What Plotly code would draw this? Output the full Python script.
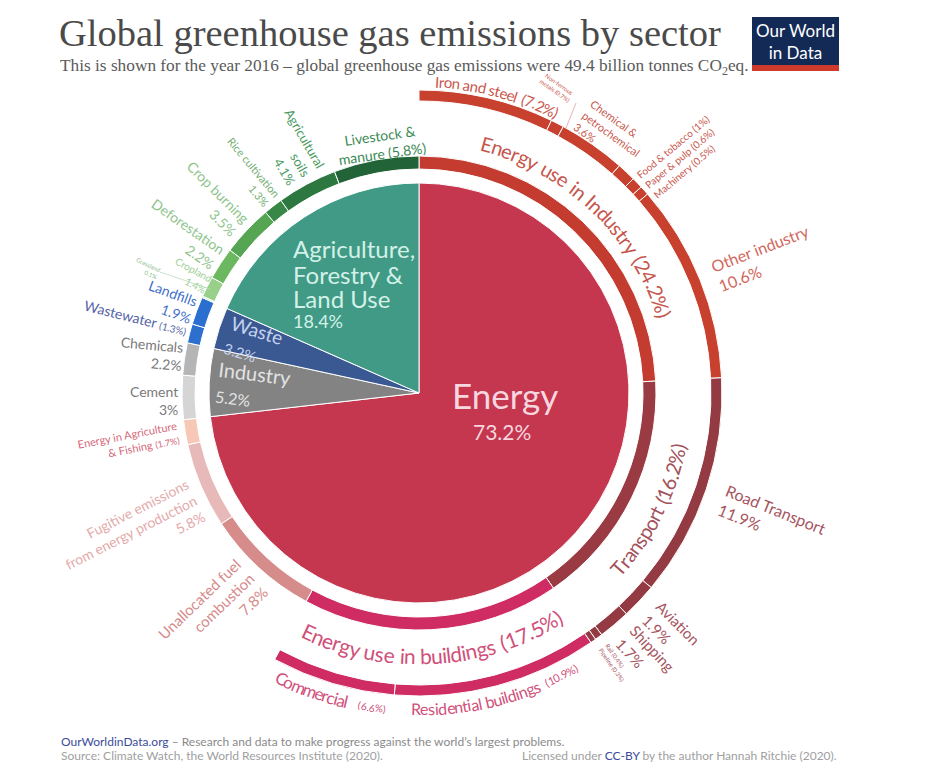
import math
import plotly.graph_objects as go

# ---- data (share of global GHG emissions, %) ----
main_sectors = ["Energy", "Industry", "Waste", "Agriculture, Forestry & Land Use"]
main_values = [73.2, 5.2, 3.2, 18.4]
main_colors = ["#c4374f", "#838383", "#3a5891", "#409a86"]

sub_sectors = ["Energy use in Industry", "Transport", "Energy use in buildings",
               "Unallocated fuel combustion", "Fugitive emissions from energy production",
               "Energy in Agriculture & Fishing", "Cement", "Chemicals", "Wastewater",
               "Landfills", "Grassland", "Cropland", "Deforestation", "Crop burning",
               "Rice cultivation", "Agricultural soils", "Livestock & manure"]
sub_values = [24.2, 16.2, 17.5, 7.8, 5.8, 1.7, 3.0, 2.2, 1.3, 1.9, 0.1, 1.4, 2.2, 3.5, 1.3, 4.1, 5.8]
sub_colors = ["#c43b30", "#9a3a42", "#d02c64", "#d78c8c", "#e8b9b9", "#f7c8b6",
              "#d5d5d5", "#b5b5b5", "#2d6fcc", "#2a6fd0", "#c8e8c0", "#98d08a",
              "#6cb860", "#55a552", "#378746", "#2d7841", "#226437"]

detail_sectors = ["Iron and steel", "Non-ferrous metals", "Chemical & petrochemical",
                  "Food & tobacco", "Paper & pulp", "Machinery", "Other industry",
                  "Road Transport", "Aviation", "Shipping", "Rail", "Pipeline",
                  "Residential buildings", "Commercial"]
detail_values = [7.2, 0.7, 3.6, 1.0, 0.6, 0.5, 10.6, 11.9, 1.9, 1.7, 0.4, 0.3, 10.9, 6.6]
detail_colors = ["#c8412f"] * 7 + ["#943a42"] * 5 + ["#d02c64"] * 2

# ---- geometry (pixels on the page) ----
W, H = 930, 768
PAGE_MARGIN = 8  # default body margin of the html page
CX, CY = 419, 393
R_MAX = 330
PIE_R = 210
MID = (224, 237)
OUT = (292, 303)


def px(x):
    return (x - PAGE_MARGIN) / W


def py(y):
    return 1 - (y - PAGE_MARGIN) / H


def ring(values, colors, names, r_in, r_out):
    theta, width, acc = [], [], 0.0
    for v in values:
        theta.append((acc + v / 2) * 3.6)
        width.append(v * 3.6)
        acc += v
    return go.Barpolar(
        theta=theta, width=width, base=[r_in] * len(values), r=[r_out - r_in] * len(values),
        marker=dict(color=colors, line=dict(color="white", width=1)),
        text=names, customdata=values,
        hovertemplate="%{text}: %{customdata}%<extra></extra>",
    )


fig = go.Figure()
fig.add_trace(ring(main_values, main_colors, main_sectors, 0, PIE_R))
fig.add_trace(ring(sub_values, sub_colors, sub_sectors, *MID))
fig.add_trace(ring(detail_values, detail_colors, detail_sectors, *OUT))

annotations = []


def char_w(c):
    if c in "ijl":
        return 0.23
    if c in "I":
        return 0.27
    if c in "ft":
        return 0.33
    if c == "r":
        return 0.36
    if c == " ":
        return 0.26
    if c in ".,":
        return 0.24
    if c in "()":
        return 0.3
    if c == "%":
        return 0.76
    if c.isdigit():
        return 0.58
    if c == "m":
        return 0.83
    if c == "w":
        return 0.74
    if c in "sc":
        return 0.45
    if c in "agyv":
        return 0.5
    if c in "ET":
        return 0.56
    if c.isupper():
        return 0.64
    return 0.53


def arc_text(text, r, t0, t1, size, color, inward=False):
    # one rotated annotation per character, spread along an arc from t0 to t1 (degrees, clockwise from top)
    ws = [char_w(c) for c in text]
    total = sum(ws)
    acc = 0.0
    for c, w in zip(text, ws):
        f = (acc + w / 2) / total
        acc += w
        if c == " ":
            continue
        th = t0 + (t1 - t0) * f
        a = math.radians(th)
        x = CX + r * math.sin(a)
        y = CY - r * math.cos(a)
        annotations.append(dict(
            text=c, x=px(x), y=py(y), showarrow=False,
            textangle=th - 180 if inward else th, xanchor="center", yanchor="middle",
            font=dict(family="Lato", size=size, color=color),
        ))


arc_text("Energy use in Industry (24.2%)", 258, 14.0, 73.0, 20, "#c6564c")
arc_text("Transport (16.2%)", 265, 132.5, 101.0, 20, "#a3525c", inward=True)
arc_text("Energy use in buildings (17.5%)", 263, 206.0, 147.5, 21, "#d0507a", inward=True)
arc_text("Iron and steel (7.2%)", 312, 3.0, 26.5, 15, "#c9574d")
arc_text("Commercial", 317, 206.5, 193.0, 17, "#d0507a", inward=True)
arc_text("(6.6%)", 318, 191.0, 186.0, 10, "#d0507a", inward=True)
arc_text("Residential buildings", 316, 181.5, 157.5, 16, "#d0507a", inward=True)
arc_text("(10.9%)", 316, 156.5, 150.0, 11, "#d0507a", inward=True)

# straight (rotated) labels: text, x, y, angle, size, color, align
labels = [
    ("Livestock &<br>manure (5.8%)", 381, 145, -8, 14, "#3b8a55", "center"),
    ("Agricultural<br>soils<br>4.1%", 290, 147, 60, 13, "#4a9a5f", "right"),
    ("Rice cultivation<br>1.3%", 248, 172, 50, 11, "#74ae72", "right"),
    ("Crop burning<br>3.5%", 212, 198, 45, 14, "#8ec48b", "right"),
    ("Deforestation<br>2.2%", 183, 233, 35, 14, "#8ec48b", "right"),
    ("Cropland<br>1.4%", 191, 275, 28, 10, "#a0d095", "right"),
    ("Grassland<br>0.1%", 147, 268, 25, 6, "#90c090", "right"),
    ("Landfills<br>1.9%", 170, 301, 20, 14, "#3f6fca", "right"),
    ("Wastewater <span style='font-size:10px'>(1.3%)</span>", 135, 318, 14, 14, "#5563a6", "right"),
    ("Chemicals<br>2.2%", 151, 354, 5, 14, "#7a7a7a", "right"),
    ("Cement<br>3%", 154, 400, 0, 14, "#7a7a7a", "right"),
    ("Energy in Agriculture<br>& Fishing <span style='font-size:9px'>(1.7%)</span>", 129, 441, -11, 11, "#d4687a", "right"),
    ("Fugitive emissions<br>from energy production<br>5.8%", 130, 532, -27, 14, "#e4aaaa", "right"),
    ("Unallocated fuel<br>combustion<br>7.8%", 212, 613, -44, 15, "#d68a8a", "right"),
    ("Non-ferrous<br>metals (0.7%)", 557, 88, 35, 6, "#c9574d", "center"),
    ("Chemical &<br>petrochemical<br>3.6%", 611, 134, 36, 11, "#c9574d", "left"),
    ("Food & tobacco (1%)<br>Paper & pulp (0.6%)<br>Machinery (0.5%)", 681, 157, -40, 10, "#c9574d", "left"),
    ("Other industry<br>10.6%", 764, 258, -21, 16, "#d2665c", "left"),
    ("Road Transport<br>11.9%", 772, 519, 22, 16, "#a65560", "left"),
    ("Aviation<br>1.9%", 671, 630, 45, 15, "#a65560", "left"),
    ("Shipping<br>1.7%", 645, 655, 47, 15, "#a65560", "left"),
    ("Rail (0.4%)<br>Pipeline (0.3%)", 615, 662, 55, 6, "#a65560", "left"),
    # inside the pie
    ("Waste<br><span style='font-size:15px'>3.2%</span>", 253, 342, 17, 19, "#c5d2ee", "left"),
    ("Industry<br><span style='font-size:16px'>5.2%</span>", 253, 385, 7, 20, "#e2e2e2", "left"),
]
for text, x, y, ang, size, color, align in labels:
    annotations.append(dict(
        text=text, x=px(x), y=py(y), showarrow=False,
        textangle=ang, align=align, xanchor="center", yanchor="middle",
        font=dict(family="Lato", size=size, color=color),
    ))

# AFOLU block, one line at a time to keep the tight leading of the original
for text, y, size in [("Agriculture,", 249, 24), ("Forestry &", 274, 24),
                      ("Land Use", 298, 24), ("18.4%", 321, 18)]:
    annotations.append(dict(text=text, x=px(291), y=py(y), xanchor="left", yanchor="middle",
                            font=dict(family="Lato", size=size, color="#d4f1e8")))

annotations += [
    dict(text="Energy", x=px(505), y=py(395), xanchor="center", yanchor="middle",
         font=dict(family="Lato", size=35, color="#f8d6df")),
    dict(text="73.2%", x=px(502), y=py(431), xanchor="center", yanchor="middle",
         font=dict(family="Lato", size=21, color="#f8d6df")),
    # title block
    dict(text="Global greenhouse gas emissions by sector", x=px(57), y=py(33),
         xanchor="left", yanchor="middle",
         font=dict(family="Liberation Serif", size=38.5, color="#4a4a4a")),
    dict(text="This is shown for the year 2016 – global greenhouse gas emissions were 49.4 billion tonnes CO<sub>2</sub>eq.",
         x=px(58), y=py(67), xanchor="left", yanchor="middle",
         font=dict(family="Liberation Serif", size=17.3, color="#5a5a5a")),
    dict(text="Our World<br>in Data", x=px(795.5), y=py(41), xanchor="center", yanchor="middle",
         font=dict(family="Lato", size=17, color="white")),
    # footer
    dict(text="<span style='color:#3c4c9b'>OurWorldinData.org</span> – Research and data to make progress against the world’s largest problems.",
         x=px(59), y=py(741), xanchor="left", yanchor="middle",
         font=dict(family="Lato", size=12, color="#8a8a8a")),
    dict(text="Source: Climate Watch, the World Resources Institute (2020).",
         x=px(59), y=py(755), xanchor="left", yanchor="middle",
         font=dict(family="Lato", size=12, color="#a0a0a0")),
    dict(text="Licensed under <span style='color:#3c4c9b'>CC-BY</span> by the author Hannah Ritchie (2020).",
         x=px(839), y=py(755), xanchor="right", yanchor="middle",
         font=dict(family="Lato", size=12, color="#a0a0a0")),
]
for a in annotations:
    a.setdefault("xref", "paper")
    a.setdefault("yref", "paper")
    a.setdefault("showarrow", False)

shapes = [
    dict(type="rect", xref="paper", yref="paper", x0=px(752), x1=px(839), y0=py(65), y1=py(17),
         fillcolor="#132a57", line=dict(width=0)),
    dict(type="rect", xref="paper", yref="paper", x0=px(752), x1=px(839), y0=py(71), y1=py(65),
         fillcolor="#ce3a2b", line=dict(width=0)),
    # leader lines for the tiny slices
    dict(type="line", xref="paper", yref="paper", x0=px(566), y0=py(128), x1=px(576), y1=py(103),
         line=dict(color="#e0a0a0", width=0.8)),
    dict(type="line", xref="paper", yref="paper", x0=px(160), y0=py(272), x1=px(210), y1=py(289),
         line=dict(color="#c0d8c0", width=0.8)),
]

fig.update_layout(
    width=W, height=H, margin=dict(l=0, r=0, t=0, b=0),
    paper_bgcolor="white", plot_bgcolor="white", showlegend=False,
    polar=dict(
        domain=dict(x=[px(CX - R_MAX), px(CX + R_MAX)], y=[py(CY + R_MAX), py(CY - R_MAX)]),
        bgcolor="rgba(0,0,0,0)",
        radialaxis=dict(visible=False, range=[0, R_MAX]),
        angularaxis=dict(visible=False, rotation=90, direction="clockwise"),
    ),
    annotations=annotations,
    shapes=shapes,
)

fig.write_html("out.html")
